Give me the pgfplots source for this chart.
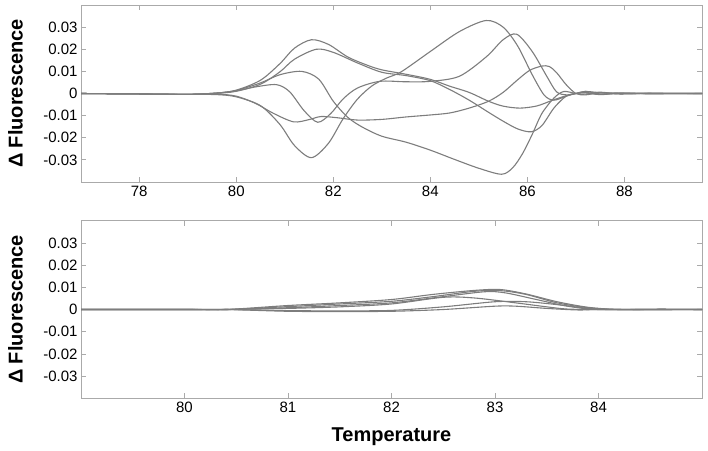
\documentclass[border=0pt]{standalone}
\usepackage{fontspec}
\setmainfont{Liberation Sans}
\usepackage{pgfplots}
\pgfplotsset{compat=1.18}

\definecolor{curvegray}{RGB}{125,125,125}
\definecolor{axgray}{RGB}{170,170,170}

\pgfplotsset{
  melt/.style={
    scale only axis, width=621pt,
    ymin=-0.04, ymax=0.04,
    scaled ticks=false,
    ytick={-0.03,-0.02,-0.01,0,0.01,0.02,0.03},
    yticklabels={-0.03,-0.02,-0.01,0,0.01,0.02,0.03},
    tick align=inside, major tick length=5pt,
    axis line style={axgray, line width=0.8pt},
    tick style={axgray, line width=0.8pt},
    ticklabel style={font=\fontsize{15}{15}\selectfont, black},
    ylabel={\bfseries Δ Fluorescence},
    ylabel style={font=\fontsize{20}{20}\selectfont, at={(axis description cs:-0.1055,0.5)}, anchor=center},
    every axis plot post/.append style={smooth, mark=none, color=curvegray, solid, line width=1.1pt},
  }
}

\begin{document}
\begin{tikzpicture}

% top panel
\begin{axis}[melt, at={(81pt,-182pt)}, anchor=south west, height=177pt,
    xmin=76.8, xmax=89.6,
    xtick={78,80,82,84,86,88}, xticklabels={78,80,82,84,86,88}]
\addplot coordinates {(76.8,0)(78,-0.0002)(79,-0.0004)(79.6,0.0002)(80,0.0015)(80.5,0.006)(80.9,0.0135)(81.2,0.0205)(81.55,0.0243)(81.9,0.0222)(82.3,0.0165)(82.7,0.0128)(83.0,0.0107)(83.5,0.0087)(84,0.0064)(84.4,0.0033)(84.8,0.0005)(85.2,-0.0035)(85.5,-0.0057)(85.85,-0.0066)(86.2,-0.0056)(86.5,-0.0032)(86.8,-0.001)(87,0)(87.2,0.0009)(87.5,0.0004)(87.9,0.0002)(88.5,0.0001)(89.6,0)};
\addplot coordinates {(76.8,0)(78,-0.0002)(79,-0.0004)(79.6,0.0001)(80,0.0010)(80.5,0.0042)(80.9,0.0098)(81.2,0.0155)(81.65,0.0200)(82,0.0186)(82.5,0.0138)(83,0.0096)(83.5,0.0081)(84,0.0058)(84.4,0.0018)(84.8,-0.003)(85.2,-0.0085)(85.5,-0.0125)(85.8,-0.0160)(86.08,-0.0173)(86.3,-0.0145)(86.55,-0.0065)(86.8,-0.0012)(87,0)(87.2,0.0005)(87.5,-0.0004)(87.9,0.0001)(88.5,-0.0001)(89.6,0)};
\addplot coordinates {(76.8,0)(78,-0.0002)(79,-0.0003)(79.6,0.0002)(80,0.0014)(80.5,0.0048)(80.9,0.0085)(81.35,0.0100)(81.7,0.0065)(82,-0.0035)(82.3,-0.0108)(82.6,-0.0152)(83,-0.0193)(83.5,-0.0220)(84,-0.0256)(84.5,-0.0298)(85,-0.0338)(85.47,-0.0365)(85.7,-0.0335)(85.9,-0.0272)(86.1,-0.0185)(86.3,-0.0090)(86.55,-0.0020)(86.75,0.0009)(87,0)(87.2,-0.0003)(87.5,0.0006)(87.9,-0.0002)(88.5,0.0001)(89.6,0)};
\addplot coordinates {(76.8,0)(78,-0.0002)(79,-0.0004)(79.6,0.0002)(80,0.0012)(80.4,0.0030)(80.83,0.0040)(81.1,0.0008)(81.4,-0.0078)(81.68,-0.0130)(81.95,-0.0090)(82.2,-0.0025)(82.5,0.0025)(82.96,0.0055)(83.5,0.0053)(84,0.0055)(84.6,0.0078)(85.16,0.0167)(85.5,0.0243)(85.78,0.0268)(86.1,0.0190)(86.4,0.0078)(86.6,0.0008)(86.8,-0.0006)(87,0)(87.2,0.0010)(87.5,-0.0002)(87.9,0.0002)(88.5,0)(89.6,0)};
\addplot coordinates {(76.8,0)(78,-0.0002)(79,-0.0004)(79.6,-0.0003)(80,-0.0012)(80.4,-0.0045)(80.76,-0.0089)(81.18,-0.0128)(81.5,-0.0118)(81.75,-0.0104)(82.1,-0.0110)(82.5,-0.0120)(83,-0.0117)(83.5,-0.0106)(84,-0.0097)(84.4,-0.0088)(84.8,-0.0066)(85.2,-0.0035)(85.5,0.0005)(85.8,0.0062)(86.05,0.0105)(86.3,0.0124)(86.45,0.0122)(86.6,0.0095)(86.8,0.0040)(87,0)(87.2,-0.0006)(87.5,0.0003)(87.9,-0.0002)(88.5,0)(89.6,0)};
\addplot coordinates {(76.8,0)(78,-0.0002)(79,-0.0004)(79.6,-0.0005)(80,-0.0015)(80.5,-0.0055)(80.9,-0.0140)(81.2,-0.0235)(81.55,-0.0290)(81.9,-0.0225)(82.2,-0.0115)(82.5,-0.0025)(82.8,0.0035)(83.1,0.0070)(83.4,0.0098)(84,0.0190)(84.6,0.0280)(85.15,0.0330)(85.5,0.0300)(85.8,0.0215)(86.1,0.0085)(86.35,-0.0008)(86.55,-0.0030)(86.8,-0.0012)(87,0)(87.2,0.0003)(87.5,-0.0005)(87.9,0.0001)(88.5,0)(89.6,0)};
\end{axis}

% bottom panel
\begin{axis}[melt, at={(81pt,-398.3pt)}, anchor=south west, height=177.6pt,
    xmin=79, xmax=85,
    xtick={80,81,82,83,84}, xticklabels={80,81,82,83,84},
    xlabel={\bfseries Temperature},
    xlabel style={font=\fontsize{20}{20}\selectfont, at={(axis description cs:0.5,-0.244)}, anchor=base}]
\addplot coordinates {(79,0)(80,0)(80.4,0)(81,0.0018)(81.5,0.0030)(82,0.0045)(82.4,0.0068)(82.8,0.0086)(83.05,0.0090)(83.3,0.0070)(83.6,0.0035)(83.9,0.0010)(84.2,0)(84.6,0.0001)(85,0)};
\addplot coordinates {(79,0)(80,0)(80.4,0)(81,0.0013)(81.5,0.0025)(82,0.0037)(82.4,0.0058)(82.8,0.0082)(83.05,0.0085)(83.3,0.0068)(83.6,0.0030)(83.9,0.0008)(84.2,0)(84.6,-0.0001)(85,0)};
\addplot coordinates {(79,0)(80,0)(80.4,0)(81,0.0008)(81.5,0.0018)(82,0.0030)(82.5,0.0058)(82.9,0.0080)(83.1,0.0075)(83.4,0.0045)(83.7,0.0015)(84,0)(84.6,0.0001)(85,0)};
\addplot coordinates {(79,0)(80,0)(80.4,0)(81,0.0005)(81.5,0.0012)(82,0.0025)(82.5,0.0055)(82.8,0.0052)(83.2,0.0030)(83.5,0.0012)(83.7,0.0002)(84,0)(84.6,0)(85,0)};
\addplot coordinates {(79,0)(80,0)(80.4,0)(81,-0.0005)(81.5,-0.0006)(82,-0.0004)(82.5,0.0012)(83,0.0035)(83.3,0.0035)(83.6,0.0022)(83.9,0.0005)(84.1,0)(84.6,0.0001)(85,0)};
\addplot coordinates {(79,0)(80,0)(80.4,0)(81,-0.0008)(81.5,-0.0009)(82,-0.0008)(82.5,0.0)(83,0.0015)(83.2,0.0015)(83.5,0.0005)(83.8,-0.0002)(84,0)(84.6,0)(85,0)};
\end{axis}

\pgfresetboundingbox
\path[use as bounding box] (0pt,0pt) rectangle (708pt,-450pt);
\end{tikzpicture}
\end{document}
